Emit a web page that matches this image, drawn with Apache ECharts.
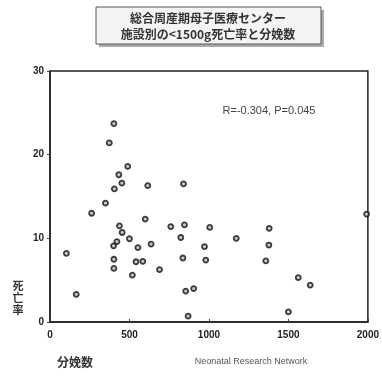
<!DOCTYPE html>
<html><head><meta charset="utf-8">
<script src="https://cdn.jsdelivr.net/npm/echarts@6/dist/echarts.min.js"></script>
<style>html,body{margin:0;padding:0;background:#fff}#c{width:382px;height:379px}</style>
</head><body><div id="c"></div>
<script>
// 分娩数 (deliveries per facility)
const deliveries = [402,373,489,433,452,405,615,349,262,599,437,454,500,421,400,636,553,103,402,541,584,402,689,518,165,840,760,846,1005,823,1172,972,836,980,854,904,869,1379,1377,1358,1562,1637,1500,1992];
// 死亡率 (<1500g mortality rate, %)
const mortality = [23.7,21.4,18.6,17.6,16.6,15.9,16.3,14.2,13.0,12.3,11.5,10.7,9.95,9.6,9.1,9.3,8.9,8.2,7.5,7.2,7.25,6.4,6.25,5.6,3.3,16.5,11.4,11.6,11.3,10.1,10.0,9.0,7.65,7.4,3.7,4.0,0.7,11.2,9.2,7.3,5.3,4.4,1.2,12.9];
const xTicks = [0,500,1000,1500,2000];
const yTicks = [0,10,20,30];
const titleLines = ['総合周産期母子医療センター','施設別の<1500g死亡率と分娩数'];
const statText = 'R=-0.304, P=0.045';

const points = deliveries.map((d,i)=>[d, mortality[i]]);
const chart = echarts.init(document.getElementById('c'));
const jp = '"Noto Sans CJK JP", sans-serif';
chart.setOption({
  animation:false,
  backgroundColor:'#fff',
  grid:{left:50,right:9,top:71,bottom:57,show:true,borderColor:'#222',borderWidth:1.5,backgroundColor:'transparent'},
  xAxis:{type:'value',min:xTicks[0],max:xTicks[xTicks.length-1],interval:500,
    axisLine:{show:true,lineStyle:{color:'#222',width:1.5}},
    axisTick:{show:true,length:3,inside:true,lineStyle:{color:'#444'}},
    splitLine:{show:false},
    axisLabel:{color:'#222',fontWeight:'bold',fontSize:10,fontFamily:'"Liberation Sans", sans-serif',margin:8,formatter:v=>String(v)}},
  yAxis:{type:'value',min:yTicks[0],max:yTicks[yTicks.length-1],interval:10,
    axisLine:{show:true,lineStyle:{color:'#222',width:1.5}},
    axisTick:{show:true,length:3,lineStyle:{color:'#444'}},
    splitLine:{show:false},
    axisLabel:{color:'#222',fontWeight:'bold',fontSize:10,fontFamily:'"Liberation Sans", sans-serif',margin:6,formatter:v=>String(v)}},
  series:[{type:'scatter',data:points,symbol:'circle',symbolSize:5,
    itemStyle:{color:'#bbb',borderColor:'#111',borderWidth:1.8}}],
  graphic:[
    {type:'rect',shape:{x:99,y:10,width:225,height:37},style:{fill:'#aaa'},z:1},
    {type:'rect',shape:{x:96,y:7,width:225,height:37},style:{fill:'#f4f4f4',stroke:'#555',lineWidth:1},z:2},
    {type:'text',x:208,y:18,style:{text:titleLines[0],fill:'#333',font:'bold 12px '+jp,align:'center',verticalAlign:'middle'},z:3},
    {type:'text',x:208,y:34,style:{text:titleLines[1],fill:'#333',font:'bold 12px '+jp,align:'center',verticalAlign:'middle'},z:3},
    {type:'text',x:269,y:111,style:{text:statText,fill:'#444',font:'11px "Liberation Sans", sans-serif',align:'center',verticalAlign:'middle'},z:3},
    {type:'text',x:18,y:298,style:{text:'死\n亡\n率',fill:'#333',font:'bold 11px '+jp,align:'center',verticalAlign:'middle',lineHeight:12},z:3},
    {type:'text',x:75,y:362,style:{text:'分娩数',fill:'#333',font:'bold 12px '+jp,align:'center',verticalAlign:'middle'},z:3},
    {type:'text',x:251,y:362,style:{text:'Neonatal Research Network',fill:'#555',font:'9px "Liberation Sans", sans-serif',align:'center',verticalAlign:'middle'},z:3}
  ]
});
</script></body></html>
